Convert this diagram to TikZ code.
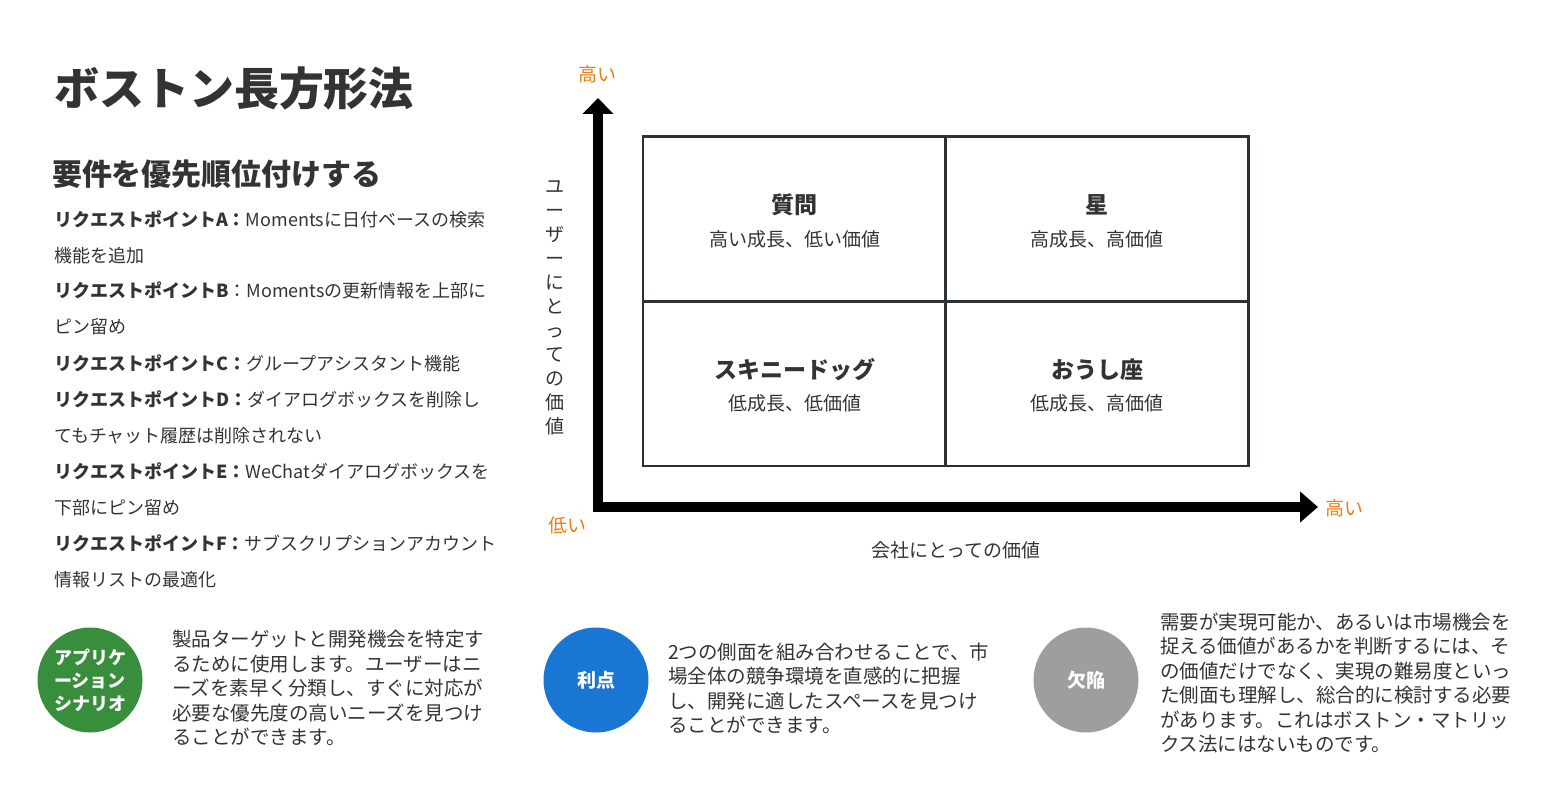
\documentclass[tikz,border=0pt]{standalone}
\usepackage{fontspec}
\setmainfont{Noto Sans CJK JP}
\usetikzlibrary{arrows.meta, positioning}
\definecolor{txt}{HTML}{333333}
\definecolor{grid}{HTML}{2B3137}
\definecolor{lvl}{HTML}{EE7D0E}
\definecolor{appl}{HTML}{388E3C}
\definecolor{merit}{HTML}{1976D2}
\definecolor{flaw}{HTML}{9E9E9E}

\begin{document}
\begin{tikzpicture}[x=1pt, y=-1pt, node distance=10pt and 20pt,
    every node/.style={text=txt, inner sep=0pt, outer sep=0pt},
    cell/.style={draw=grid, line width=2.5pt, minimum width=303pt, minimum height=164.5pt},
    qtitle/.style={font=\fontsize{23}{28}\selectfont\bfseries},
    qsub/.style={font=\fontsize{19}{24}\selectfont},
    req/.style={anchor=base west, align=left, font=\fontsize{18}{36}\selectfont},
    level/.style={text=lvl, font=\fontsize{19}{22}\selectfont},
    badge/.style={circle, minimum size=105pt, text=white, align=center, font=\fontsize{18}{23}\selectfont\bfseries},
    para/.style={anchor=west, align=left, font=\fontsize{19.5}{24.5}\selectfont},
    axis/.style={line width=10pt, {Triangle[width=30pt,length=16pt]}-{Triangle[width=30pt,length=18pt]}}]
  \useasboundingbox (0,0) rectangle (1551,805);

  % headings
  \node[anchor=base west, font=\fontsize{45}{50}\selectfont\bfseries] (title) at (54,106) {ボストン長方形法};
  \node[anchor=base west, font=\fontsize{30}{36}\selectfont\bfseries] (subtitle) at (52,186) {要件を優先順位付けする};

  % request points (anchored on the baseline of the last line)
  \node[req] (reqA) at (54,263) {\textbf{リクエストポイントA：}Momentsに日付ベースの検索\\機能を追加};
  \node[req] (reqB) at (54,334) {\textbf{リクエストポイントB}：Momentsの更新情報を上部に\\ピン留め};
  \node[req] (reqC) at (54,370) {\textbf{リクエストポイントC：}グループアシスタント機能};
  \node[req] (reqD) at (54,442) {\textbf{リクエストポイントD：}ダイアログボックスを削除し\\てもチャット履歴は削除されない};
  \node[req] (reqE) at (54,514) {\textbf{リクエストポイントE：}WeChatダイアログボックスを\\下部にピン留め};
  \node[req] (reqF) at (54,586) {\textbf{リクエストポイントF：}サブスクリプションアカウント\\情報リストの最適化};

  % matrix
  \foreach \name/\pos/\head/\note in {
      q1/{794.5,219}/質問/高い成長、低い価値, q2/{1097,219}/星/高成長、高価値,
      q3/{794.5,383.5}/スキニードッグ/低成長、低価値, q4/{1097,383.5}/おうし座/低成長、高価値} {
    \node[cell] (\name) at (\pos) {};
    \node[qtitle] (\name t) at ([yshift=14pt]\name.center) {\head};
    \node[qsub] (\name s) at ([yshift=-20pt]\name.center) {\note};
  }

  % axes
  \coordinate (origin) at (598,507);
  \coordinate (ytip) at (598,98);
  \coordinate (xtip) at (1318,507);
  \draw[axis] (ytip) -- (origin) -- (xtip);
  \node[level] (yhigh) at (597,74) {高い};
  \node[level] (ylow) at (567,525) {低い};
  \node[level] (xhigh) at (1344,508) {高い};
  \node[font=\fontsize{19}{24}\selectfont, align=center] (yname) at (555,308) {ユ\\ー\\ザ\\ー\\に\\と\\っ\\て\\の\\価\\値};
  \node[font=\fontsize{19}{24}\selectfont] (xname) at (956,550) {会社にとっての価値};

  % notes
  \node[badge, fill=appl] (scene) at (90,680) {アプリケ\\ーション\\シナリオ};
  \node[badge, fill=merit, font=\fontsize{19}{23}\selectfont\bfseries] (gain) at (596,680) {利点};
  \node[badge, fill=flaw, font=\fontsize{19}{23}\selectfont\bfseries] (lack) at (1086,680) {欠陥};
  \node[para] (sceneText) at (172,688) {製品ターゲットと開発機会を特定す\\るために使用します。ユーザーはニ\\ーズを素早く分類し、すぐに対応が\\必要な優先度の高いニーズを見つけ\\ることができます。};
  \node[para] (gainText) at (668,688.5) {2つの側面を組み合わせることで、市\\場全体の競争環境を直感的に把握\\し、開発に適したスペースを見つけ\\ることができます。};
  \node[para] (lackText) at (1160,683) {需要が実現可能か、あるいは市場機会を\\捉える価値があるかを判断するには、そ\\の価値だけでなく、実現の難易度といっ\\た側面も理解し、総合的に検討する必要\\があります。これはボストン・マトリッ\\クス法にはないものです。};
\end{tikzpicture}
\end{document}
